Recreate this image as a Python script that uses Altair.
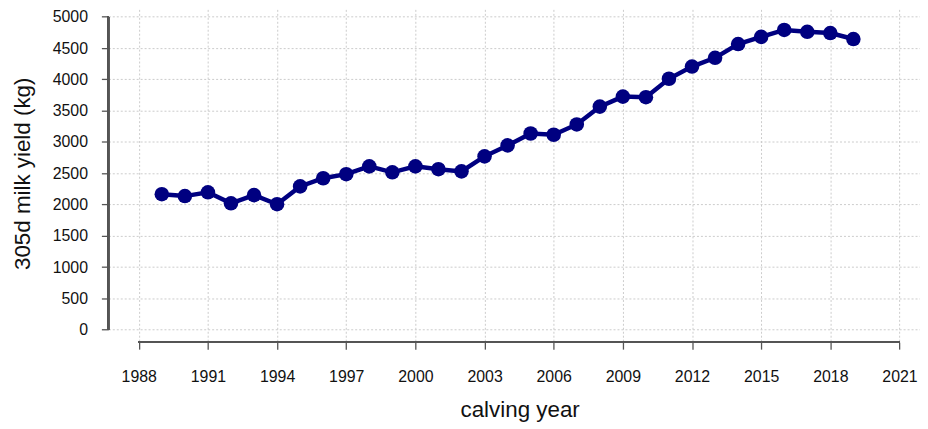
import altair as alt
import pandas as pd

years = list(range(1989, 2020))
milk_yield = [2165, 2135, 2195, 2020, 2150, 2005, 2290, 2420, 2485, 2610,
              2515, 2610, 2565, 2530, 2770, 2945, 3135, 3115, 3280, 3565,
              3725, 3715, 4010, 4205, 4345, 4565, 4680, 4790, 4760, 4740, 4645]

x_ticks = list(range(1988, 2022, 3))
y_ticks = list(range(0, 5001, 500))

df = pd.DataFrame({"year": years, "milk": milk_yield})

FONT = "Liberation Sans, Arial, sans-serif"
AX = "#555555"
NAVY = "#000080"
TXT = "#111111"

x_scale = alt.Scale(domain=[1986.68, 2021.89], nice=False, zero=False)
y_scale = alt.Scale(domain=[-200, 5119], nice=False, zero=False)

W = 817
H = 335

x_axis = alt.Axis(values=x_ticks, format="d", title="calving year",
                  domain=False, grid=True, ticks=True, tickSize=7,
                  tickColor=AX, tickWidth=1.3,
                  gridColor="#cccccc", gridDash=[2, 2], gridWidth=1,
                  labelFont=FONT, labelFontSize=16, labelColor=TXT,
                  labelPadding=20, labelFlush=False, labelOverlap=False,
                  titleFont=FONT, titleFontSize=22.5, titleFontWeight="normal",
                  titleColor=TXT, titleX=414, titleY=68,
                  titleAlign="center", titleBaseline="middle")
y_axis = alt.Axis(values=y_ticks, format="d", title="305d milk yield (kg)",
                  domain=False, grid=True, ticks=True, tickSize=7,
                  tickColor=AX, tickWidth=1.3,
                  gridColor="#cccccc", gridDash=[2, 2], gridWidth=1,
                  labelFont=FONT, labelFontSize=16, labelColor=TXT,
                  labelPadding=14, labelFlush=False, labelOverlap=False,
                  titleFont=FONT, titleFontSize=22.5, titleFontWeight="normal",
                  titleColor=TXT, titleX=-86, titleY=165,
                  titleAngle=-90, titleAlign="center", titleBaseline="middle")

line = alt.Chart(df).mark_line(
    color=NAVY, strokeWidth=4.5, clip=True,
    point=alt.OverlayMarkDef(filled=True, size=215, color=NAVY, opacity=1)
).encode(
    x=alt.X("year:Q", scale=x_scale, axis=x_axis),
    y=alt.Y("milk:Q", scale=y_scale, axis=y_axis),
)

y_axis_line = alt.Chart(df).mark_rule(color=AX, strokeWidth=1.5).encode(
    x=alt.value(0),
    y=alt.Y(datum=min(y_ticks), scale=y_scale, axis=y_axis),
    y2=alt.Y2(datum=max(y_ticks)),
)

x_axis_line = alt.Chart(df).mark_rule(color=AX, strokeWidth=1.5).encode(
    y=alt.value(H),
    x=alt.X(datum=min(x_ticks), scale=x_scale, axis=x_axis),
    x2=alt.X2(datum=max(x_ticks)),
)

chart = alt.layer(line, y_axis_line, x_axis_line).properties(
    width=W, height=H,
    background="white",
    autosize=alt.AutoSizeParams(type="none"),
    padding={"left": 101, "top": 0, "right": 0, "bottom": 86},
).configure_view(stroke=None)

chart.save("out.html", embed_options={"renderer": "svg", "actions": False})
